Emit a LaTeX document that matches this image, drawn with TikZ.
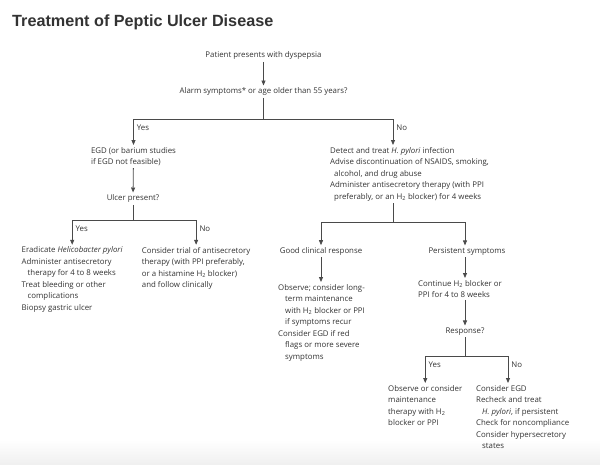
\documentclass[tikz,border=0pt]{standalone}
\usepackage{fontspec}
\setmainfont{Open Sans}
\newfontfamily\titlefont{Liberation Sans}
\usepackage{xcolor}
\usepackage{tikz}
\usetikzlibrary{arrows.meta,positioning}

\definecolor{inkgray}{HTML}{333333}
\definecolor{linegray}{HTML}{4A4A4A}

\begin{document}
\begin{tikzpicture}[
  x=1pt,y=-1pt,
  txt/.style={inner sep=2pt,text=inkgray,font=\fontsize{7.85}{11.5}\selectfont},
  blk/.style={txt,align=left,anchor=north west},
  one/.style={txt,anchor=mid},
  lbl/.style={inner sep=1pt,text=inkgray,font=\fontsize{7.85}{9}\selectfont,anchor=north west,xshift=2pt,yshift=-4.5pt},
  link/.style={draw=linegray,line width=0.8pt},
  arrow/.style={link,-{Triangle[length=5pt,width=4pt]}}
]
\useasboundingbox (0,0) rectangle (600,464);
\shade[top color=white,bottom color=black!6] (0,440) rectangle (600,464);
\node[anchor=base west,inner sep=0pt,text=inkgray,font=\titlefont\fontsize{16.2}{18}\selectfont\bfseries] (title) at (12,26.5) {Treatment of Peptic Ulcer Disease};

\node[one] (pres) at (263.5,55) {Patient presents with dyspepsia};
\node[one] (alarm) at (263.5,91) {Alarm symptoms* or age older than 55 years?};
\coordinate (s1) at (263.5,119);
\coordinate (c1) at (393,119);

\node[blk,anchor=north] (egd) at (133.5,145) {EGD (or barium studies\\if EGD not feasible)};
\node[one] (ulcer) at (133,198) {Ulcer present?};
\coordinate (s2) at (133,220);

\node[blk] (erad) at (19.5,244.8) {Eradicate \textit{Helicobacter pylori}\\
Administer antisecretory\\
\hspace*{6pt}therapy for 4 to 8 weeks\\
Treat bleeding or other\\
\hspace*{6pt}complications\\
Biopsy gastric ulcer};
\node[blk] (trial) at (139.7,244.8) {Consider trial of antisecretory\\
therapy (with PPI preferably,\\
or a histamine H\textsubscript{2} blocker)\\
and follow clinically};

\node[blk] (detect) at (328,145) {Detect and treat \textit{H. pylori} infection\\
Advise discontinuation of NSAIDS, smoking,\\
\hspace*{4pt}alcohol, and drug abuse\\
Administer antisecretory therapy (with PPI\\
\hspace*{4pt}preferably, or an H\textsubscript{2} blocker) for 4 weeks};
\coordinate (s3) at (393,222);

\node[one] (good) at (321,250.7) {Good clinical response};
\node[one] (pers) at (467,250.7) {Persistent symptoms};
\node[blk] (observe) at (276,282) {Observe; consider long-\\
\hspace*{7pt}term maintenance\\
\hspace*{7pt}with H\textsubscript{2} blocker or PPI\\
\hspace*{7pt}if symptoms recur\\
Consider EGD if red\\
\hspace*{7pt}flags or more severe\\
\hspace*{7pt}symptoms};
\node[blk] (cont) at (416,278) {Continue H\textsubscript{2} blocker or\\PPI for 4 to 8 weeks};
\node[one] (resp) at (465,330.7) {Response?};
\coordinate (s4) at (465,356);
\coordinate (c4) at (508,356);

\node[blk] (obs2) at (386,383) {Observe or consider\\maintenance\\therapy with H\textsubscript{2}\\blocker or PPI};
\node[blk] (cegd) at (474,383) {Consider EGD\\
Recheck and treat\\
\hspace*{6pt}\textit{H. pylori}, if persistent\\
Check for noncompliance\\
Consider hypersecretory\\
\hspace*{6pt}states};

\draw[arrow] (pres) -- (alarm);
\draw[link] (alarm) -- (s1);
\draw[arrow] (s1) -| node[lbl,pos=0.5]{Yes} (egd);
\draw[arrow] (s1) -- (c1) node[lbl]{No} -- (c1 |- detect.north);
\draw[arrow] (egd) -- (ulcer);
\draw[link] (ulcer) -- (s2);
\draw[arrow] (s2) -| node[lbl,pos=0.5]{Yes} (erad);
\draw[arrow] (s2) -| node[lbl,pos=0.5]{No} (trial);
\draw[link] (s3 |- detect.south) -- (s3);
\draw[arrow] (s3) -| (good);
\draw[arrow] (s3) -| (pers.north -| s4);
\draw[arrow] (good) -- (good |- observe.north);
\draw[arrow] (pers.south -| s4) -- (s4 |- cont.north);
\draw[arrow] (cont.south -| s4) -- (resp);
\draw[link] (resp) -- (s4);
\draw[arrow] (s4) -| node[lbl,pos=0.5]{Yes} (obs2);
\draw[arrow] (s4) -- (c4) node[lbl]{No} -- (c4 |- cegd.north);
\end{tikzpicture}
\end{document}
